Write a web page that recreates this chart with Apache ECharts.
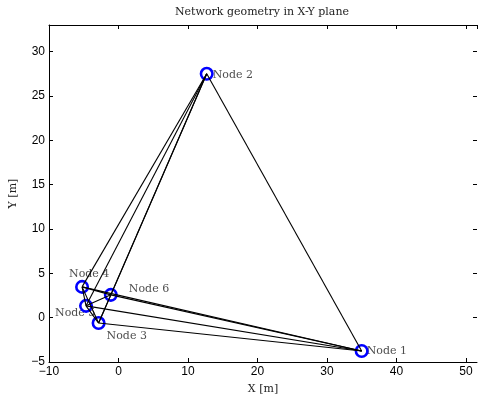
<!DOCTYPE html>
<html>
<head>
<meta charset="utf-8">
<script src="https://cdn.jsdelivr.net/npm/echarts@6/dist/echarts.min.js"></script>
<style>html,body{margin:0;padding:0;background:#fff}#c{width:478px;height:400px}</style>
</head>
<body>
<div id="c"></div>
<script>
// Node data
var nodeNames = ['Node 1', 'Node 2', 'Node 3', 'Node 4', 'Node 5', 'Node 6'];
var nodeX = [35.0, 12.7, -2.86, -5.24, -4.67, -1.1];
var nodeY = [-3.76, 27.5, -0.61, 3.47, 1.33, 2.57];
// Links (complete graph) as index pairs
var edges = [
  [0,1],[0,2],[0,3],[0,4],[0,5],
  [1,2],[1,3],[1,4],[1,5],
  [2,3],[2,4],[2,5],
  [3,4],[3,5],
  [4,5]
];
// Axis ticks
var xTicks = {min: -10, max: 51.6, interval: 10};
var yTicks = {min: -5, max: 33, interval: 5};

var labelOffsets = [[5,0],[6,1],[8,13],[-13,-13],[-31,7],[18,-6]];

var serif = '"DejaVu Serif", serif';
function fmt(v){ return v < 0 ? '\u2212' + (-v) : String(v); }

var labelData = nodeNames.map(function(n,i){
  return {value:[nodeX[i], nodeY[i]], name:n,
    label:{offset: labelOffsets[i]}};
});
var circleData = nodeNames.map(function(n,i){ return [nodeX[i], nodeY[i]]; });
var lineData = edges.map(function(e){
  return {coords: [[nodeX[e[0]], nodeY[e[0]]], [nodeX[e[1]], nodeY[e[1]]]]};
});

function axisCommon(showLine){
  return {
    axisLine: {show: showLine, onZero: false, lineStyle: {color: '#000', width: 1}},
    axisTick: {show: true, inside: true, length: 4, lineStyle: {color: '#000'}},
    splitLine: {show: false}
  };
}

var chart = echarts.init(document.getElementById('c'), null, {renderer: 'canvas'});
chart.setOption({
  animation: false,
  backgroundColor: '#fff',
  grid: {left: 46, width: 431, top: 25, height: 338, containLabel: false},
  graphic: [{
    type: 'text', x: 262, y: 12,
    style: {text: 'Network geometry in X-Y plane', textAlign: 'center', textVerticalAlign: 'middle',
      font: '11px "DejaVu Serif", serif', fill: '#222'}
  }],
  xAxis: [
    Object.assign({type: 'value', position: 'bottom', min: xTicks.min, max: xTicks.max, interval: xTicks.interval,
      name: 'X [m]', nameLocation: 'middle', nameGap: 22,
      nameTextStyle: {fontFamily: serif, fontSize: 11, color: '#222'},
      axisLabel: {show: true, color: '#000', fontFamily: '"Liberation Sans", Arial, sans-serif', fontSize: 12, margin: 4, showMaxLabel: false, formatter: fmt}
    }, axisCommon(true)),
    Object.assign({type: 'value', position: 'top', min: xTicks.min, max: xTicks.max, interval: xTicks.interval,
      axisLabel: {show: false}}, axisCommon(true))
  ],
  yAxis: [
    Object.assign({type: 'value', position: 'left', min: yTicks.min, max: yTicks.max, interval: yTicks.interval,
      name: 'Y [m]', nameLocation: 'middle', nameGap: 30, nameRotate: 90,
      nameTextStyle: {fontFamily: serif, fontSize: 11, color: '#222'},
      axisLabel: {show: true, color: '#000', fontFamily: '"Liberation Sans", Arial, sans-serif', fontSize: 12, margin: 4, showMaxLabel: false, formatter: fmt}
    }, axisCommon(true)),
    Object.assign({type: 'value', position: 'right', min: yTicks.min, max: yTicks.max, interval: yTicks.interval,
      axisLabel: {show: false}}, axisCommon(false))
  ],
  series: [
    {
      type: 'scatter', z: 1, symbolSize: 0, data: labelData,
      label: {show: true, position: 'inside', align: 'left', verticalAlign: 'middle',
        formatter: function(p){ return p.name; },
        fontFamily: serif, fontSize: 11, color: '#222'}
    },
    {
      type: 'scatter', z: 2, symbol: 'circle', symbolSize: 11.5, data: circleData,
      itemStyle: {color: '#fff', borderColor: '#0000ff', borderWidth: 2.6, opacity: 1}
    },
    {
      type: 'lines', coordinateSystem: 'cartesian2d', z: 3, data: lineData,
      lineStyle: {color: '#000', width: 1.1, opacity: 1}
    }
  ]
});
</script>
</body>
</html>
